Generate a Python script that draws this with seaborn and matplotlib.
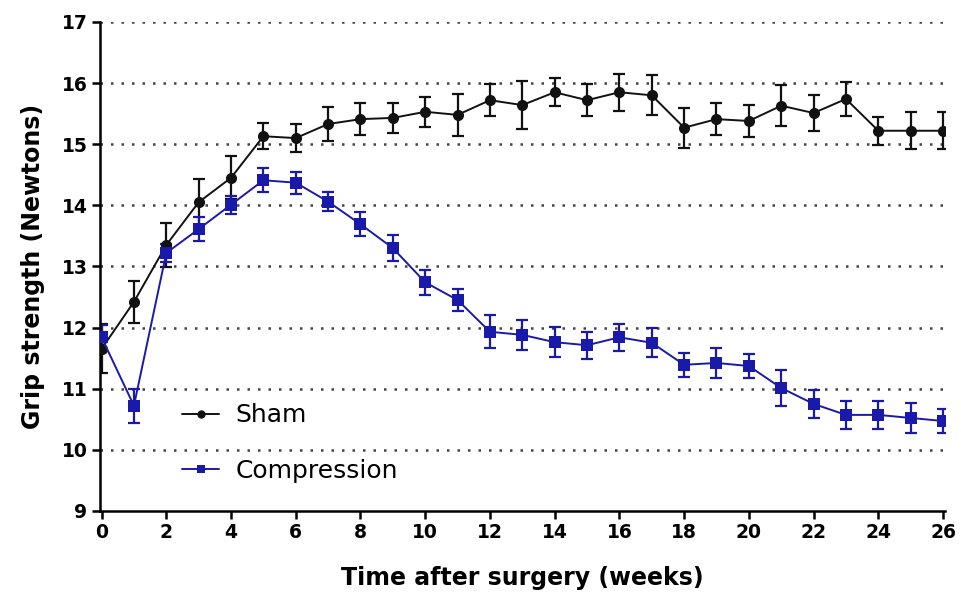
import numpy as np
import pandas as pd
import matplotlib
matplotlib.use("Agg")
import matplotlib.pyplot as plt
import seaborn as sns

weeks = list(range(0, 27))

sham_mean = [11.65, 12.42, 13.35, 14.05, 14.45, 15.13, 15.10, 15.33, 15.41, 15.43,
             15.53, 15.48, 15.72, 15.64, 15.85, 15.72, 15.85, 15.80, 15.27, 15.41,
             15.38, 15.63, 15.51, 15.74, 15.22, 15.22, 15.22]
sham_err = [0.40, 0.34, 0.36, 0.38, 0.35, 0.21, 0.23, 0.28, 0.26, 0.25,
            0.25, 0.34, 0.26, 0.39, 0.23, 0.26, 0.30, 0.33, 0.33, 0.26,
            0.26, 0.34, 0.30, 0.28, 0.23, 0.30, 0.30]

comp_mean = [11.84, 10.72, 13.22, 13.61, 14.01, 14.41, 14.37, 14.06, 13.69, 13.30,
             12.74, 12.45, 11.93, 11.88, 11.76, 11.71, 11.84, 11.75, 11.39, 11.42,
             11.37, 11.01, 10.75, 10.57, 10.57, 10.52, 10.47]
comp_err = [0.20, 0.28, 0.15, 0.20, 0.15, 0.20, 0.18, 0.15, 0.20, 0.21,
            0.20, 0.18, 0.27, 0.25, 0.25, 0.22, 0.22, 0.24, 0.20, 0.25,
            0.20, 0.30, 0.23, 0.23, 0.23, 0.25, 0.20]

groups = ["Sham", "Compression"]
colors = {"Sham": "#111111", "Compression": "#1a1aaa"}
markers = {"Sham": "o", "Compression": "s"}

df = pd.DataFrame({
    "week": weeks * 2,
    "grip": sham_mean + comp_mean,
    "err": sham_err + comp_err,
    "group": ["Sham"] * len(weeks) + ["Compression"] * len(weeks),
})

sns.set_style("white")
plt.rcParams["font.family"] = ["DejaVu Sans"]
plt.rcParams["text.color"] = "black"
plt.rcParams["axes.labelcolor"] = "black"
plt.rcParams["xtick.color"] = "black"
plt.rcParams["ytick.color"] = "black"

fig, ax = plt.subplots(figsize=(9.61, 5.94), dpi=100)
fig.subplots_adjust(left=0.104, right=0.983, bottom=0.140, top=0.963)

for y in range(10, 18):
    ax.axhline(y, color="#444444", linestyle=(0, (1, 3.2)), linewidth=1.8, zorder=0)

for g in groups:
    sub = df[df["group"] == g]
    ax.errorbar(sub["week"], sub["grip"], yerr=sub["err"], fmt="none",
                ecolor=colors[g], elinewidth=1.6, capsize=4, capthick=1.6, zorder=2)

sns.lineplot(data=df, x="week", y="grip", hue="group", style="group",
             palette=colors, markers=markers, dashes=False, hue_order=groups,
             style_order=groups, linewidth=1.4, markersize=8, markeredgewidth=0,
             ax=ax, zorder=3)

ax.set_xlim(-0.05, 26.05)
ax.set_ylim(9, 17)
ax.set_xticks(range(0, 27, 2))
ax.set_yticks(range(9, 18))
sns.despine(ax=ax)
for s in ["left", "bottom"]:
    ax.spines[s].set_color("black")
    ax.spines[s].set_linewidth(1.8)
ax.tick_params(axis="both", direction="out", length=6, width=1.8, color="black",
               labelsize=13.5, pad=3, left=True, bottom=True)
for lab in ax.get_xticklabels() + ax.get_yticklabels():
    lab.set_fontweight("bold")

ax.set_xlabel("Time after surgery (weeks)", fontsize=17, fontweight="bold", labelpad=17)
ax.set_ylabel("Grip strength (Newtons)", fontsize=17, fontweight="bold", labelpad=12)

leg = ax.legend(loc="upper left", bbox_to_anchor=(0.097, 0.22), frameon=False,
                fontsize=18, handlelength=1.5, labelspacing=1.25, handletextpad=0.65,
                borderpad=0, borderaxespad=0, markerscale=0.75)

fig.savefig("out.png", dpi=100)
